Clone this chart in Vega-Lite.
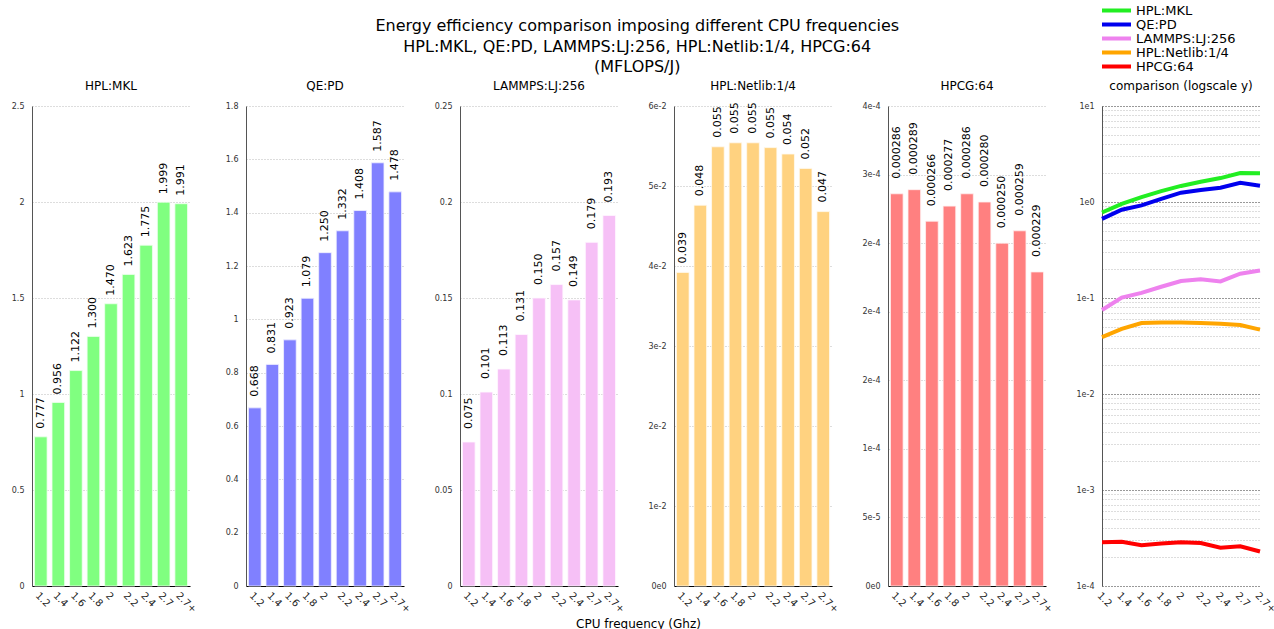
{
  "$schema": "https://vega.github.io/schema/vega-lite/v6.json",
  "padding": {"left": 11, "top": 4, "right": 0, "bottom": 0},
  "bounds": "flush",
  "spacing": 56,
  "title": {
    "text": ["Energy efficiency comparison imposing different CPU frequencies", "HPL:MKL, QE:PD, LAMMPS:LJ:256, HPL:Netlib:1/4, HPCG:64", "(MFLOPS/J)"],
    "fontSize": 16,
    "fontWeight": "normal",
    "lineHeight": 20.5,
    "anchor": "middle",
    "color": "#000000",
    "dx": -7,
    "dy": 80
  },
  "datasets": {
    "eff": [
      {"freq": "1.2", "bench": "HPL:MKL", "value": 0.777},
      {"freq": "1.4", "bench": "HPL:MKL", "value": 0.956},
      {"freq": "1.6", "bench": "HPL:MKL", "value": 1.122},
      {"freq": "1.8", "bench": "HPL:MKL", "value": 1.300},
      {"freq": "2", "bench": "HPL:MKL", "value": 1.470},
      {"freq": "2.2", "bench": "HPL:MKL", "value": 1.623},
      {"freq": "2.4", "bench": "HPL:MKL", "value": 1.775},
      {"freq": "2.7", "bench": "HPL:MKL", "value": 1.999},
      {"freq": "2.7+", "bench": "HPL:MKL", "value": 1.991},
      {"freq": "1.2", "bench": "QE:PD", "value": 0.668},
      {"freq": "1.4", "bench": "QE:PD", "value": 0.831},
      {"freq": "1.6", "bench": "QE:PD", "value": 0.923},
      {"freq": "1.8", "bench": "QE:PD", "value": 1.079},
      {"freq": "2", "bench": "QE:PD", "value": 1.250},
      {"freq": "2.2", "bench": "QE:PD", "value": 1.332},
      {"freq": "2.4", "bench": "QE:PD", "value": 1.408},
      {"freq": "2.7", "bench": "QE:PD", "value": 1.587},
      {"freq": "2.7+", "bench": "QE:PD", "value": 1.478},
      {"freq": "1.2", "bench": "LAMMPS:LJ:256", "value": 0.075},
      {"freq": "1.4", "bench": "LAMMPS:LJ:256", "value": 0.101},
      {"freq": "1.6", "bench": "LAMMPS:LJ:256", "value": 0.113},
      {"freq": "1.8", "bench": "LAMMPS:LJ:256", "value": 0.131},
      {"freq": "2", "bench": "LAMMPS:LJ:256", "value": 0.150},
      {"freq": "2.2", "bench": "LAMMPS:LJ:256", "value": 0.157},
      {"freq": "2.4", "bench": "LAMMPS:LJ:256", "value": 0.149},
      {"freq": "2.7", "bench": "LAMMPS:LJ:256", "value": 0.179},
      {"freq": "2.7+", "bench": "LAMMPS:LJ:256", "value": 0.193},
      {"freq": "1.2", "bench": "HPL:Netlib:1/4", "value": 0.0392},
      {"freq": "1.4", "bench": "HPL:Netlib:1/4", "value": 0.0476},
      {"freq": "1.6", "bench": "HPL:Netlib:1/4", "value": 0.0549},
      {"freq": "1.8", "bench": "HPL:Netlib:1/4", "value": 0.0554},
      {"freq": "2", "bench": "HPL:Netlib:1/4", "value": 0.0554},
      {"freq": "2.2", "bench": "HPL:Netlib:1/4", "value": 0.0548},
      {"freq": "2.4", "bench": "HPL:Netlib:1/4", "value": 0.0540},
      {"freq": "2.7", "bench": "HPL:Netlib:1/4", "value": 0.0522},
      {"freq": "2.7+", "bench": "HPL:Netlib:1/4", "value": 0.0468},
      {"freq": "1.2", "bench": "HPCG:64", "value": 0.000286},
      {"freq": "1.4", "bench": "HPCG:64", "value": 0.000289},
      {"freq": "1.6", "bench": "HPCG:64", "value": 0.000266},
      {"freq": "1.8", "bench": "HPCG:64", "value": 0.000277},
      {"freq": "2", "bench": "HPCG:64", "value": 0.000286},
      {"freq": "2.2", "bench": "HPCG:64", "value": 0.000280},
      {"freq": "2.4", "bench": "HPCG:64", "value": 0.000250},
      {"freq": "2.7", "bench": "HPCG:64", "value": 0.000259},
      {"freq": "2.7+", "bench": "HPCG:64", "value": 0.000229}
    ]
  },
  "data": {"name": "eff"},
  "hconcat": [
    {
      "width": 158, "height": 480,
      "title": {"text": "HPL:MKL"},
      "transform": [{"filter": "datum.bench == 'HPL:MKL'"}],
      "encoding": {
        "x": {"field": "freq", "type": "ordinal", "sort": ["1.2","1.4","1.6","1.8","2","2.2","2.4","2.7","2.7+"], "scale": {"paddingInner": 0.28, "paddingOuter": 0.14}, "axis": {"title": null}},
        "y": {"field": "value", "type": "quantitative", "scale": {"domain": [0, 2.5], "nice": false}, "axis": {"title": null, "values": [0, 0.5, 1, 1.5, 2, 2.5], "format": "~g"}}
      },
      "layer": [
        {"mark": {"type": "bar", "color": "#80ff80", "stroke": "#f0fff0", "strokeWidth": 0.8}},
        {"mark": {"type": "text", "angle": -90, "align": "left", "baseline": "middle", "dx": 8, "fontSize": 11}, "encoding": {"text": {"field": "value", "type": "quantitative", "format": ".3f"}}}
      ]
    },
    {
      "width": 158, "height": 480,
      "title": {"text": "QE:PD"},
      "transform": [{"filter": "datum.bench == 'QE:PD'"}],
      "encoding": {
        "x": {"field": "freq", "type": "ordinal", "sort": ["1.2","1.4","1.6","1.8","2","2.2","2.4","2.7","2.7+"], "scale": {"paddingInner": 0.28, "paddingOuter": 0.14}, "axis": {"title": null}},
        "y": {"field": "value", "type": "quantitative", "scale": {"domain": [0, 1.8], "nice": false}, "axis": {"title": null, "values": [0, 0.2, 0.4, 0.6, 0.8, 1, 1.2, 1.4, 1.6, 1.8], "format": "~g"}}
      },
      "layer": [
        {"mark": {"type": "bar", "color": "#8080ff", "stroke": "#f0f0ff", "strokeWidth": 0.8}},
        {"mark": {"type": "text", "angle": -90, "align": "left", "baseline": "middle", "dx": 11, "fontSize": 11}, "encoding": {"text": {"field": "value", "type": "quantitative", "format": ".3f"}}}
      ]
    },
    {
      "width": 158, "height": 480,
      "title": {"text": "LAMMPS:LJ:256"},
      "transform": [{"filter": "datum.bench == 'LAMMPS:LJ:256'"}],
      "encoding": {
        "x": {"field": "freq", "type": "ordinal", "sort": ["1.2","1.4","1.6","1.8","2","2.2","2.4","2.7","2.7+"], "scale": {"paddingInner": 0.28, "paddingOuter": 0.14}, "axis": {"title": "CPU frequency (Ghz)", "titleX": 178, "titleY": 37, "titleBaseline": "middle", "titleFontSize": 12, "titleFontWeight": "normal", "titleColor": "#000000"}},
        "y": {"field": "value", "type": "quantitative", "scale": {"domain": [0, 0.25], "nice": false}, "axis": {"title": null, "values": [0, 0.05, 0.1, 0.15, 0.2, 0.25], "format": "~g"}}
      },
      "layer": [
        {"mark": {"type": "bar", "color": "#f6c0f6", "stroke": "#fff8ff", "strokeWidth": 0.8}},
        {"mark": {"type": "text", "angle": -90, "align": "left", "baseline": "middle", "dx": 13, "fontSize": 11}, "encoding": {"text": {"field": "value", "type": "quantitative", "format": ".3f"}}}
      ]
    },
    {
      "width": 158, "height": 480,
      "title": {"text": "HPL:Netlib:1/4"},
      "transform": [{"filter": "datum.bench == 'HPL:Netlib:1/4'"}],
      "encoding": {
        "x": {"field": "freq", "type": "ordinal", "sort": ["1.2","1.4","1.6","1.8","2","2.2","2.4","2.7","2.7+"], "scale": {"paddingInner": 0.28, "paddingOuter": 0.14}, "axis": {"title": null}},
        "y": {"field": "value", "type": "quantitative", "scale": {"domain": [0, 0.06], "nice": false}, "axis": {"title": null, "values": [0, 0.01, 0.02, 0.03, 0.04, 0.05, 0.06], "labelExpr": "replace(format(datum.value, '.0e'), '+', '')"}}
      },
      "layer": [
        {"mark": {"type": "bar", "color": "#ffd280", "stroke": "#fffaf0", "strokeWidth": 0.8}},
        {"mark": {"type": "text", "angle": -90, "align": "left", "baseline": "middle", "dx": 9, "fontSize": 11}, "encoding": {"text": {"field": "value", "type": "quantitative", "format": ".3f"}}}
      ]
    },
    {
      "width": 158, "height": 480,
      "title": {"text": "HPCG:64"},
      "transform": [{"filter": "datum.bench == 'HPCG:64'"}],
      "encoding": {
        "x": {"field": "freq", "type": "ordinal", "sort": ["1.2","1.4","1.6","1.8","2","2.2","2.4","2.7","2.7+"], "scale": {"paddingInner": 0.28, "paddingOuter": 0.14}, "axis": {"title": null}},
        "y": {"field": "value", "type": "quantitative", "scale": {"domain": [0, 0.00035], "nice": false}, "axis": {"title": null, "values": [0, 0.00005, 0.0001, 0.00015, 0.0002, 0.00025, 0.0003, 0.00035], "labelExpr": "datum.value > 0.00034 ? '4e-4' : datum.value > 0.00029 ? '3e-4' : datum.value > 0.00014 ? '2e-4' : datum.value > 0.00009 ? '1e-4' : datum.value > 0.00004 ? '5e-5' : '0e0'"}}
      },
      "layer": [
        {"mark": {"type": "bar", "color": "#ff8080", "stroke": "#fff0f0", "strokeWidth": 0.8}},
        {"mark": {"type": "text", "angle": -90, "align": "left", "baseline": "middle", "dx": 15, "fontSize": 11}, "encoding": {"text": {"field": "value", "type": "quantitative", "format": ".6f"}}}
      ]
    },
    {
      "width": 158, "height": 480,
      "title": {"text": "comparison (logscale y)"},
      "mark": {"type": "line", "strokeWidth": 4},
      "encoding": {
        "x": {"field": "freq", "type": "ordinal", "sort": ["1.2","1.4","1.6","1.8","2","2.2","2.4","2.7","2.7+"], "scale": {"type": "point", "padding": 0}, "axis": {"title": null, "domain": false}},
        "y": {"field": "value", "type": "quantitative", "scale": {"type": "log", "domain": [0.0001, 10], "nice": false},
          "axis": {"title": null, "labelOverlap": false,
            "values": [0.0001,0.0002,0.0003,0.0004,0.0005,0.0006,0.0007,0.0008,0.0009,0.001,0.002,0.003,0.004,0.005,0.006,0.007,0.008,0.009,0.01,0.02,0.03,0.04,0.05,0.06,0.07,0.08,0.09,0.1,0.2,0.3,0.4,0.5,0.6,0.7,0.8,0.9,1,2,3,4,5,6,7,8,9,10],
            "labelExpr": "slice(format(datum.value, '.0e'), 0, 1) == '1' ? replace(format(datum.value, '.0e'), '+', '') : ''",
            "gridColor": {"condition": {"test": "slice(format(datum.value, '.0e'), 0, 1) == '1'", "value": "#333333"}, "value": "#bbbbbb"}}},
        "color": {"field": "bench", "type": "nominal",
          "scale": {"domain": ["HPL:MKL", "QE:PD", "LAMMPS:LJ:256", "HPL:Netlib:1/4", "HPCG:64"], "range": ["#22ee22", "#0000ee", "#ee82ee", "#ffa500", "#ff0000"]},
          "legend": {"orient": "none", "legendX": 1070, "legendY": -102, "title": null, "symbolType": "M-5,0L5,0", "symbolSize": 81, "symbolStrokeWidth": 4, "labelFontSize": 13, "labelColor": "#000000", "rowPadding": 0, "clipHeight": 13, "labelOffset": 21, "padding": 0}}
      }
    }
  ],
  "config": {
    "font": "DejaVu Sans",
    "view": {"stroke": null},
    "title": {"fontSize": 12, "fontWeight": "normal", "color": "#000000", "offset": 9},
    "axisX": {"labelAngle": 45, "labelAlign": "left", "labelBaseline": "top", "labelFontSize": 10, "labelColor": "#222222", "ticks": false, "domainColor": "#000000", "labelPadding": 4, "grid": false},
    "axisY": {"grid": true, "gridColor": "#bbbbbb", "gridDash": [1, 2], "domainColor": "#555555", "ticks": false, "labelFontSize": 8, "labelColor": "#333333", "labelPadding": 8},
    "text": {"color": "#000000"}
  }
}
